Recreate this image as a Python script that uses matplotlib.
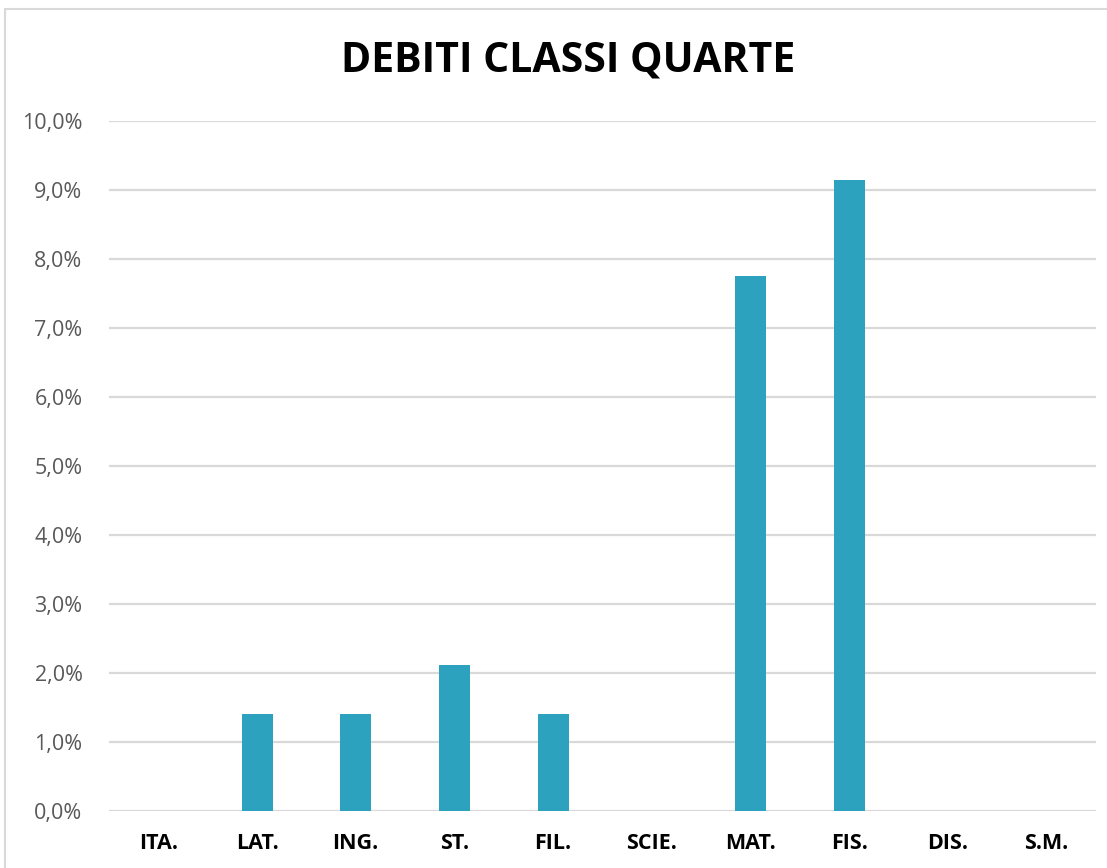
import matplotlib
matplotlib.use("Agg")
import matplotlib.pyplot as plt
from matplotlib.ticker import FuncFormatter, MultipleLocator
from matplotlib.patches import Rectangle

categories = ["ITA.", "LAT.", "ING.", "ST.", "FIL.", "SCIE.", "MAT.", "FIS.", "DIS.", "S.M."]
values = [0.0, 0.0141, 0.0141, 0.0211, 0.0141, 0.0, 0.0775, 0.0915, 0.0, 0.0]
title = "DEBITI CLASSI QUARTE"

W, H = 1107, 868
fig = plt.figure(figsize=(W / 100, H / 100), dpi=100)
fig.patch.set_facecolor("white")

# chart border
fig.patches.append(Rectangle((5 / W, -0.1), 1.2, 1 - 9 / H + 0.1, transform=fig.transFigure,
                             fill=False, edgecolor="#d9d9d9", linewidth=1.5))

ax = fig.add_axes([109 / W, 1 - 811 / H, (1096 - 109) / W, (811 - 121) / H])
x = list(range(len(categories)))
ax.bar(x, values, width=0.314, color="#2da2bf", zorder=3)

ax.set_xlim(-0.5, len(categories) - 0.5)
ax.set_ylim(0, 0.10)
ax.yaxis.set_major_locator(MultipleLocator(0.01))
ax.yaxis.set_major_formatter(FuncFormatter(lambda v, p: f"{v*100:.1f}%".replace(".", ",")))
ax.grid(axis="y", color="#d9d9d9", linewidth=1.6, zorder=0)
for s in ax.spines.values():
    s.set_visible(False)
ax.tick_params(axis="both", length=0)
ax.tick_params(axis="y", pad=19, labelsize=15.5, labelcolor="#595959")
ax.tick_params(axis="x", pad=16)
ax.set_xticks(x)
ax.set_xticklabels(categories, fontsize=15.5, fontweight="bold", color="black")
for lab in ax.get_yticklabels() + ax.get_xticklabels():
    lab.set_family("Open Sans")

fig.text(568 / W, 1 - 61 / H, title, ha="center", va="center", fontsize=29.5,
         fontweight="bold", family="Open Sans", color="black")

fig.savefig("out.png", dpi=100, facecolor="white")
